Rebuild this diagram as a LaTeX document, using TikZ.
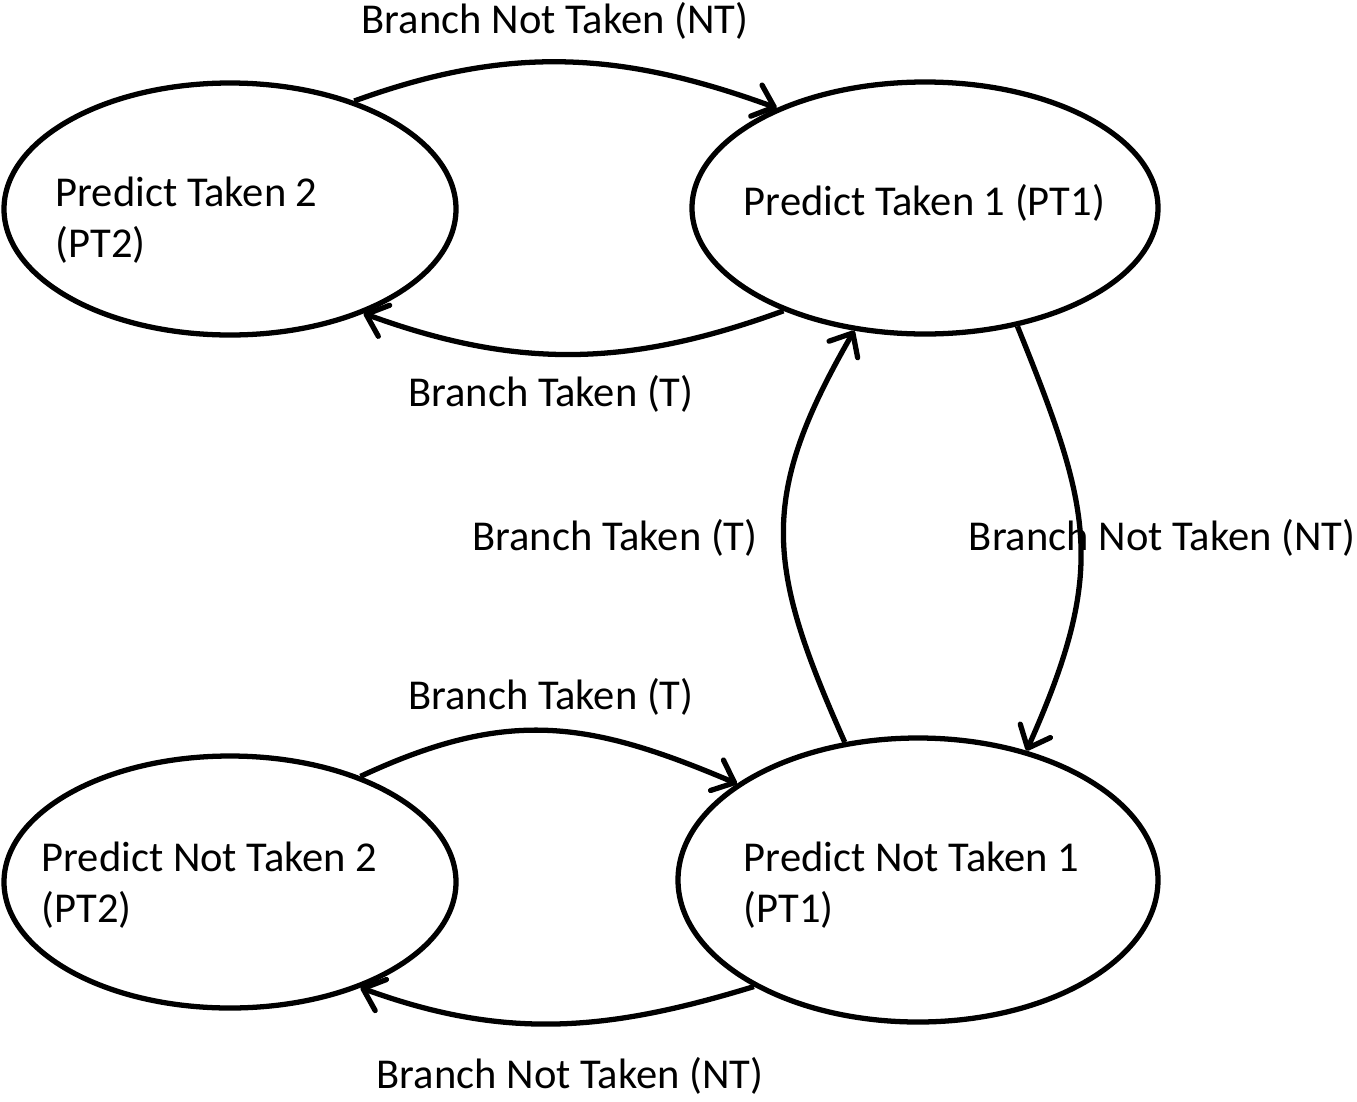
\documentclass[tikz,border=0pt]{standalone}
\usepackage{fontspec}
\setmainfont{Carlito}
\usetikzlibrary{positioning,arrows.meta,shapes.geometric}

\begin{document}
\begin{tikzpicture}[
    state/.style={draw=black, ellipse, line width=3pt, inner sep=0pt},
    statetext/.style={align=left, font=\fontsize{24.2}{29}\selectfont, inner sep=0pt},
    edgelabel/.style={font=\fontsize{24.2}{29}\selectfont, inner sep=0pt},
    arrow/.style={-{Straight Barb[length=3.8mm, width=6.6mm, round]}, line width=3pt}
]
\useasboundingbox (0,0) rectangle (27.14,-22.02);

% states
\node[state, minimum width=9.04cm, minimum height=5.04cm] (pt2) at (4.60,-4.18) {};
\node[state, minimum width=9.32cm, minimum height=5.04cm] (pt1) at (18.50,-4.16) {};
\node[state, minimum width=9.04cm, minimum height=5.04cm] (pnt2) at (4.60,-17.64) {};
\node[state, minimum width=9.60cm, minimum height=5.68cm] (pnt1) at (18.36,-17.60) {};

\node[statetext, right=1.08cm of pt2.west, yshift=-0.22cm] (pt2txt) {Predict Taken 2\\(PT2)};
\node[statetext, right=1.08cm of pt1.west, yshift=0.10cm] (pt1txt) {Predict Taken 1 (PT1)};
\node[statetext, right=0.80cm of pnt2.west, yshift=-0.06cm] (pnt2txt) {Predict Not Taken 2\\(PT2)};
\node[statetext, right=1.36cm of pnt1.west, yshift=-0.10cm] (pnt1txt) {Predict Not Taken 1\\(PT1)};

% transitions
\draw[arrow] (pt2.41.7) to[out=20, in=160] (pt1.146);
\draw[arrow] (pt1.216.5) to[out=200, in=340] (pt2.322.6);
\draw[arrow] (pnt1.118.2) to[out=114, in=240, looseness=1.2] (pt1.240.4);
\draw[arrow] (pt1.308.8) to[out=-68, in=66, looseness=1.2] (pnt1.50.5);
\draw[arrow] (pnt2.39.1) to[out=25, in=157, looseness=1.1] (pnt1.152.4);
\draw[arrow] (pnt1.213.6) to[out=197, in=340] (pnt2.321.2);

% labels
\node[edgelabel] (lblnttop) at (11.10,-0.42) {Branch Not Taken (NT)};
\node[edgelabel] (lblttop) at (11.02,-7.88) {Branch Taken (T)};
\node[edgelabel] (lbltmid) at (12.30,-10.76) {Branch Taken (T)};
\node[edgelabel] (lblntmid) at (23.24,-10.76) {Branch Not Taken (NT)};
\node[edgelabel] (lbltbot) at (11.02,-13.94) {Branch Taken (T)};
\node[edgelabel] (lblntbot) at (11.40,-21.52) {Branch Not Taken (NT)};
\end{tikzpicture}
\end{document}
